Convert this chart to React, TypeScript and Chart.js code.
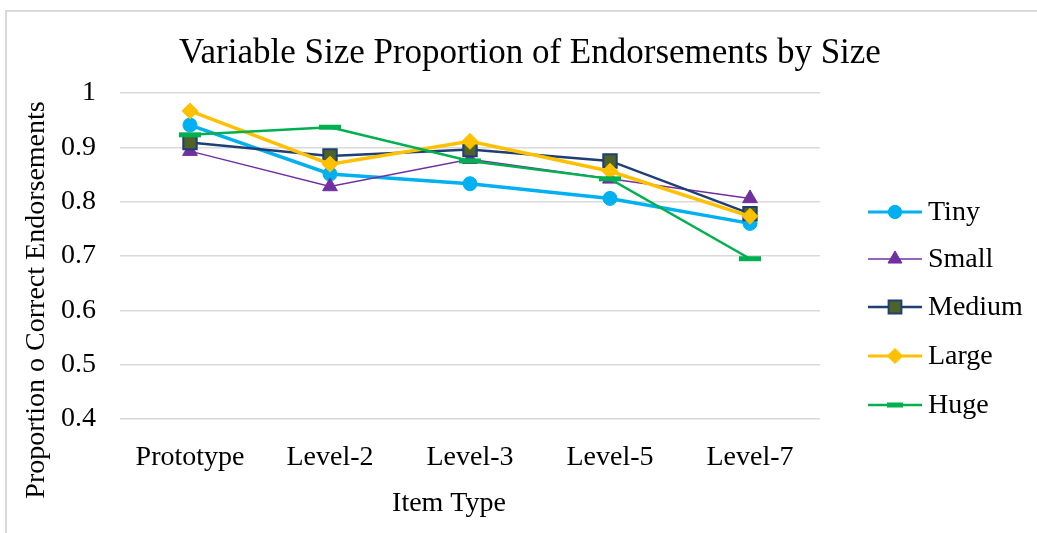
import React, { useEffect, useRef } from "react";
import { Chart, registerables } from "chart.js";

Chart.register(...registerables);

const chartTitle = "Variable Size Proportion of Endorsements by Size";
const yAxisTitle = "Proportion o Correct Endorsements";
const xAxisTitle = "Item Type";
const categories = ["Prototype", "Level-2", "Level-3", "Level-5", "Level-7"];
const yTickValues = [0.4, 0.5, 0.6, 0.7, 0.8, 0.9, 1];

const seriesNames = ["Tiny", "Small", "Medium", "Large", "Huge"];
const tinyValues = [0.941, 0.851, 0.833, 0.806, 0.76];
const smallValues = [0.893, 0.828, 0.878, 0.842, 0.806];
const mediumValues = [0.909, 0.884, 0.896, 0.875, 0.778];
const largeValues = [0.967, 0.869, 0.911, 0.856, 0.773];
const hugeValues = [0.923, 0.937, 0.875, 0.842, 0.695];

const FONT = "'Liberation Serif', 'Times New Roman', serif";

type Style = {
  line: string;
  fill: string;
  border: string;
  lineWidth: number;
  shape: string;
  radius: number;
  pbw: number;
};

const styles: Style[] = [
  { line: "#00B0F0", fill: "#00B0F0", border: "#00B0F0", lineWidth: 3.5, shape: "circle", radius: 7, pbw: 1 },
  { line: "#7030A0", fill: "#7030A0", border: "#7030A0", lineWidth: 1.5, shape: "triangle", radius: 8.5, pbw: 1 },
  { line: "#1F3F74", fill: "#4F6228", border: "#1F3F74", lineWidth: 2.5, shape: "rect", radius: 9.5, pbw: 2 },
  { line: "#FFC000", fill: "#FFC000", border: "#FFC000", lineWidth: 3.5, shape: "rectRot", radius: 8, pbw: 1 },
  { line: "#00B050", fill: "#00B050", border: "#00B050", lineWidth: 2.5, shape: "line", radius: 11, pbw: 5 },
];

const allValues = [tinyValues, smallValues, mediumValues, largeValues, hugeValues];

function drawMarker(ctx: CanvasRenderingContext2D, s: Style, x: number, y: number, r: number) {
  ctx.save();
  ctx.fillStyle = s.fill;
  ctx.strokeStyle = s.border;
  ctx.lineWidth = s.pbw;
  ctx.beginPath();
  if (s.shape === "circle") {
    ctx.arc(x, y, r, 0, Math.PI * 2);
    ctx.fill();
    ctx.stroke();
  } else if (s.shape === "triangle") {
    const h = r * 1.5;
    const half = (r * Math.sqrt(3)) / 2;
    ctx.moveTo(x, y - r);
    ctx.lineTo(x + half, y - r + h);
    ctx.lineTo(x - half, y - r + h);
    ctx.closePath();
    ctx.fill();
    ctx.stroke();
  } else if (s.shape === "rect") {
    const sz = r * Math.SQRT1_2;
    ctx.rect(x - sz, y - sz, sz * 2, sz * 2);
    ctx.fill();
    ctx.stroke();
  } else if (s.shape === "rectRot") {
    ctx.moveTo(x, y - r);
    ctx.lineTo(x + r, y);
    ctx.lineTo(x, y + r);
    ctx.lineTo(x - r, y);
    ctx.closePath();
    ctx.fill();
    ctx.stroke();
  } else if (s.shape === "line") {
    ctx.moveTo(x - r, y);
    ctx.lineTo(x + r, y);
    ctx.stroke();
  }
  ctx.restore();
}

const decorPlugin = {
  id: "decor",
  beforeDraw(chart: any) {
    const ctx = chart.ctx as CanvasRenderingContext2D;
    ctx.save();
    ctx.fillStyle = "#ffffff";
    ctx.fillRect(0, 0, chart.width, chart.height);
    ctx.strokeStyle = "#d9d9d9";
    ctx.lineWidth = 2;
    ctx.beginPath();
    ctx.moveTo(6, chart.height + 2);
    ctx.lineTo(6, 11);
    ctx.lineTo(chart.width + 2, 11);
    ctx.stroke();
    ctx.restore();
  },
  afterDraw(chart: any) {
    const ctx = chart.ctx as CanvasRenderingContext2D;
    const area = chart.chartArea;
    ctx.save();
    ctx.fillStyle = "#000000";
    // title
    ctx.font = `35px ${FONT}`;
    ctx.textAlign = "center";
    ctx.textBaseline = "alphabetic";
    ctx.fillText(chartTitle, 530, 63);
    // x axis title
    ctx.font = `28px ${FONT}`;
    ctx.fillText(xAxisTitle, 449, 511);
    // y axis title
    ctx.save();
    ctx.translate(44, 300);
    ctx.rotate(-Math.PI / 2);
    ctx.fillText(yAxisTitle, 0, 0);
    ctx.restore();
    // legend
    const legendY = [212, 259, 307, 356, 405];
    ctx.textAlign = "left";
    ctx.textBaseline = "middle";
    seriesNames.forEach((name, i) => {
      const s = styles[i];
      const y = legendY[i];
      ctx.save();
      ctx.strokeStyle = s.line;
      ctx.lineWidth = Math.min(s.lineWidth, 3);
      ctx.beginPath();
      ctx.moveTo(868, y);
      ctx.lineTo(922, y);
      ctx.stroke();
      ctx.restore();
      drawMarker(ctx, s, 895, y, s.shape === "line" ? 8 : s.radius * 0.95);
      ctx.fillStyle = "#000000";
      ctx.font = `28px ${FONT}`;
      ctx.fillText(name, 928, y + 1);
    });
    ctx.restore();
    void area;
  },
};

export default function App() {
  const canvasRef = useRef<HTMLCanvasElement | null>(null);

  useEffect(() => {
    document.body.style.margin = "0";
    const canvas = canvasRef.current;
    if (!canvas) return;
    const datasets = seriesNames.map((name, i) => {
      const s = styles[i];
      return {
        label: name,
        data: allValues[i],
        borderColor: s.line,
        backgroundColor: s.fill,
        borderWidth: s.lineWidth,
        pointStyle: s.shape,
        pointRadius: s.radius,
        pointHoverRadius: s.radius,
        pointBackgroundColor: s.fill,
        pointBorderColor: s.border,
        pointBorderWidth: s.pbw,
        tension: 0,
        fill: false,
        order: 5 - i,
      };
    });
    const chart = new Chart(canvas, {
      type: "line",
      data: { labels: categories, datasets },
      options: {
        animation: false,
        responsive: false,
        maintainAspectRatio: false,
        layout: { padding: { top: 93, right: 217, bottom: 0, left: 0 } },
        plugins: {
          legend: { display: false },
          title: { display: false },
          tooltip: { enabled: false },
        },
        scales: {
          x: {
            type: "category",
            offset: true,
            grid: { display: false },
            border: { display: false },
            ticks: {
              color: "#000000",
              font: { family: FONT, size: 28 },
              padding: 14,
              maxRotation: 0,
              autoSkip: false,
            },
            afterFit(scale: any) {
              scale.height = 114;
            },
          },
          y: {
            min: 0.4,
            max: 1,
            grid: { color: "#d9d9d9", lineWidth: 1.5, drawTicks: false },
            border: { display: false },
            afterBuildTicks(scale: any) {
              scale.ticks = yTickValues.map((v) => ({ value: v }));
            },
            ticks: {
              color: "#000000",
              font: { family: FONT, size: 28 },
              padding: 24,
              callback: (v: any) => String(Number(Number(v).toFixed(1))),
            },
            afterFit(scale: any) {
              scale.width = 120;
            },
          },
        },
      },
      plugins: [decorPlugin],
    });
    return () => chart.destroy();
  }, []);

  return (
    <div style={{ width: 1037, height: 533, position: "relative" }}>
      <canvas ref={canvasRef} width={1037} height={533} style={{ display: "block" }} />
    </div>
  );
}
